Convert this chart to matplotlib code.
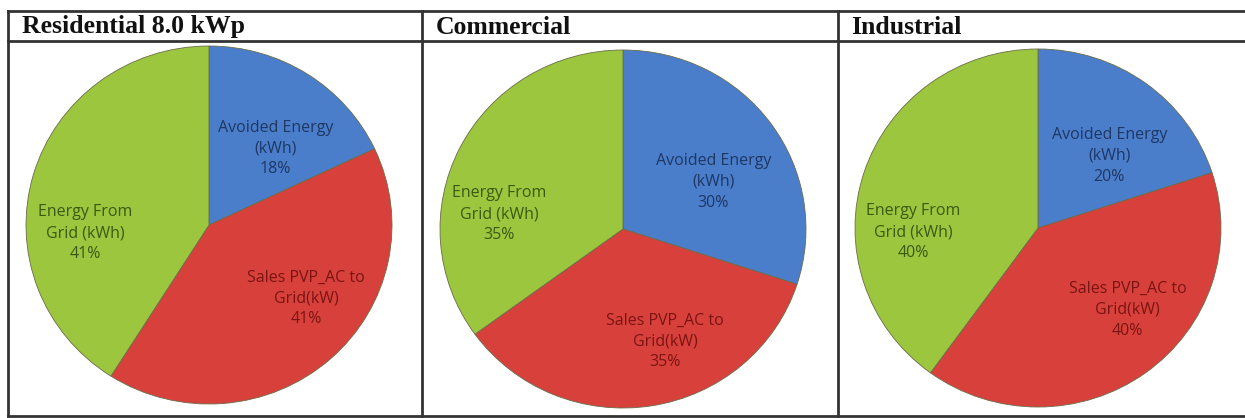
import numpy as np
import matplotlib
matplotlib.use("Agg")
import matplotlib.pyplot as plt

titles = ["Residential 8.0 kWp", "Commercial", "Industrial"]
labels = ["Avoided Energy\n(kWh)", "Sales PVP_AC to\nGrid(kW)", "Energy From\nGrid (kWh)"]
residential = [18, 41, 41]
commercial = [30, 35, 35]
industrial = [20, 40, 40]
all_values = [residential, commercial, industrial]

colors = ["#4a7ecb", "#d8413b", "#9cc63d"]
text_colors = ["#1f3763", "#7a1412", "#3a5a14"]

W, H = 1245, 418
fig = plt.figure(figsize=(W / 100, H / 100), dpi=100)
fig.patch.set_facecolor("white")

# table frame, pixel coords
frame = fig.add_axes([0, 0, 1, 1])
frame.set_xlim(0, W)
frame.set_ylim(H, 0)
frame.axis("off")
lc = "#333333"
for y in [11, 41, 416]:
    frame.plot([8, W], [y, y], color=lc, lw=2)
for x in [8, 422, 838]:
    frame.plot([x, x], [11, 416], color=lc, lw=2)

title_x = [22, 436, 851]
for tx, t in zip(title_x, titles):
    frame.text(tx, 27, t, fontsize=18.5, fontweight="bold", family="Liberation Serif",
               color="#111111", va="center", ha="left")

centers = [(209, 225), (623, 229), (1038, 228)]
rx, ry = 183, 179
ang_shift = [8, -11, -20]
lab_r = [0.56, 0.67, 0.68]

for (cx, cy), vals in zip(centers, all_values):
    ax = fig.add_axes([(cx - rx) / W, 1 - (cy + ry) / H, 2 * rx / W, 2 * ry / H])
    wedges, _ = ax.pie(vals, colors=colors, startangle=90, counterclock=False,
                       wedgeprops=dict(edgecolor="#6b6b4a", linewidth=0.6))
    ax.set_aspect("auto")
    ax.set_xlim(-1, 1)
    ax.set_ylim(-1, 1)
    total = sum(vals)
    for i, w in enumerate(wedges):
        mid = (w.theta1 + w.theta2) / 2 - ang_shift[i]
        x = lab_r[i] * np.cos(np.radians(mid))
        y = lab_r[i] * np.sin(np.radians(mid))
        pct = round(100 * vals[i] / total)
        ax.text(x, y, "%s\n%d%%" % (labels[i], pct), ha="center", va="center",
                fontsize=11.5, color=text_colors[i], family="Open Sans", linespacing=1.4)

fig.savefig("out.png", dpi=100, facecolor="white")
